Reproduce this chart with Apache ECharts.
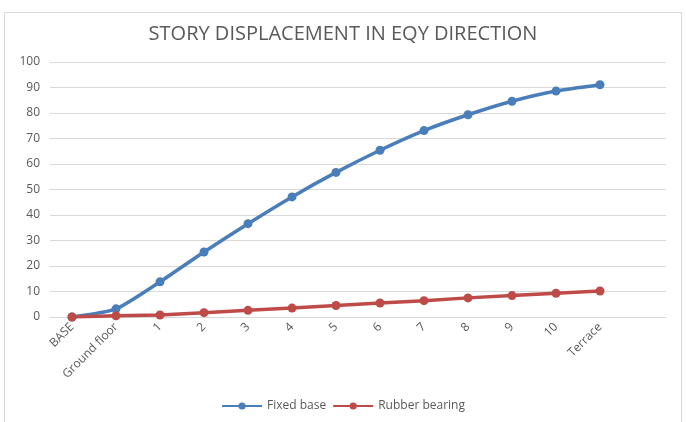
<!DOCTYPE html>
<html>
<head>
<meta charset="utf-8">
<script src="https://cdn.jsdelivr.net/npm/echarts@6/dist/echarts.min.js"></script>
<style>
  html, body { margin: 0; padding: 0; background: #fff; }
  #chart { width: 686px; height: 422px; }
</style>
</head>
<body>
<div id="chart"></div>
<script>
// data (Excel leaves one empty slot at the right end)
var floors = ["BASE", "Ground floor", "1", "2", "3", "4", "5", "6", "7", "8", "9", "10", "Terrace", ""];
var fixedBase = [0, 3.2, 13.8, 25.5, 36.6, 47.1, 56.7, 65.4, 73.1, 79.3, 84.6, 88.6, 91.1, null];
var rubberBearing = [0, 0.5, 0.8, 1.7, 2.6, 3.5, 4.5, 5.5, 6.4, 7.5, 8.4, 9.3, 10.2, null];
var yTicks = { min: 0, max: 100, interval: 10 };

var chartDom = document.getElementById("chart");
var myChart = echarts.init(chartDom);
var font = "'Open Sans', 'Noto Sans', sans-serif";
var option = {
  animation: false,
  textStyle: { fontFamily: font },
  graphic: [{
    type: "rect",
    shape: { x: 4.5, y: 12.5, width: 677, height: 420 },
    style: { fill: "none", stroke: "#d9d9d9", lineWidth: 1 }
  }],
  title: {
    text: "STORY DISPLACEMENT IN EQY DIRECTION",
    left: "center",
    top: 19,
    textStyle: { fontFamily: font, fontWeight: "normal", fontSize: 20, color: "#595959" }
  },
  legend: {
    bottom: 5,
    left: "center",
    itemWidth: 40,
    itemHeight: 9,
    itemGap: 6,
    textStyle: { fontFamily: font, fontSize: 12, color: "#595959" },
    data: ["Fixed base", "Rubber bearing"]
  },
  grid: { left: 50, right: 20, top: 62, bottom: 105 },
  xAxis: {
    type: "category",
    data: floors,
    boundaryGap: true,
    axisLine: { lineStyle: { color: "#d9d9d9" } },
    axisTick: { show: false },
    axisLabel: { rotate: 45, interval: 0, fontSize: 12, color: "#595959", margin: 8 }
  },
  yAxis: {
    type: "value",
    min: yTicks.min,
    max: yTicks.max,
    interval: yTicks.interval,
    axisLine: { show: false },
    axisTick: { show: false },
    axisLabel: { fontSize: 12, color: "#595959", margin: 10 },
    splitLine: { lineStyle: { color: "#d9d9d9" } }
  },
  series: [
    {
      name: "Fixed base",
      type: "line",
      data: fixedBase,
      smooth: 0.2,
      symbol: "circle",
      symbolSize: 9,
      itemStyle: { color: "#4a7ebb" },
      lineStyle: { width: 3.5, color: "#4a7ebb" }
    },
    {
      name: "Rubber bearing",
      type: "line",
      data: rubberBearing,
      symbol: "circle",
      symbolSize: 9,
      itemStyle: { color: "#be4b48" },
      lineStyle: { width: 3.5, color: "#be4b48" }
    }
  ]
};
option && myChart.setOption(option);
</script>
</body>
</html>
